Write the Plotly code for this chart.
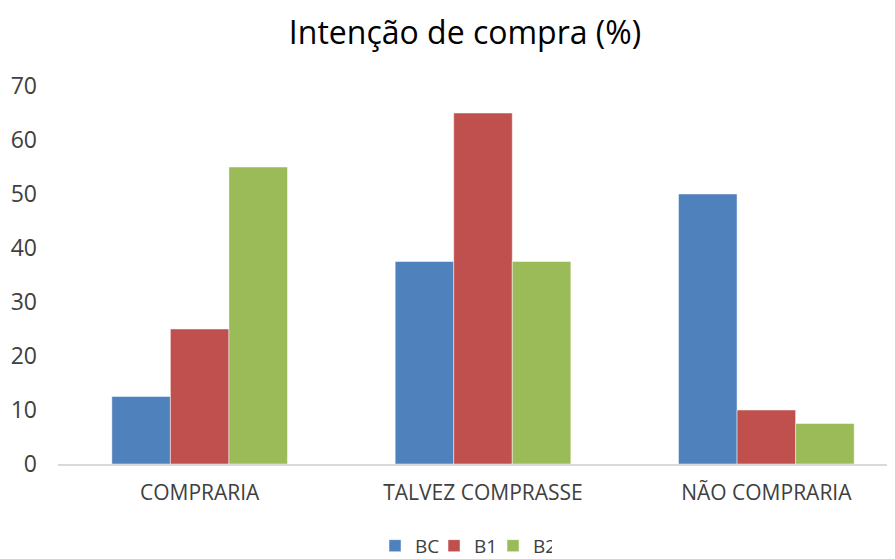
import plotly.graph_objects as go

categories = ["COMPRARIA", "TALVEZ COMPRASSE", "NÃO COMPRARIA"]
bc = [12.5, 37.5, 50]
b1 = [25, 65, 10]
b2 = [55, 37.5, 7.5]
series_names = ["BC", "B1", "B2"]
colors = ["#4F81BD", "#C0504D", "#9BBB59"]
y_ticks = [0, 10, 20, 30, 40, 50, 60, 70]

fig = go.Figure()
for name, vals, col in zip(series_names, [bc, b1, b2], colors):
    fig.add_trace(go.Bar(x=categories, y=vals, name=name, marker_color=col,
                         marker_line=dict(color="rgba(255,255,255,0.6)", width=0.8)))
# empty spacer entry so the last legend label is not clipped
fig.add_trace(go.Bar(x=[], y=[], name=" ", marker_color="rgba(0,0,0,0)",
                     marker_line_width=0, hoverinfo="skip"))

# page body has an 8px default margin; the chart's plot area runs past the right edge
fig.update_layout(
    width=900, height=551,
    barmode="group", bargap=0.38, bargroupgap=0,
    plot_bgcolor="white", paper_bgcolor="white",
    font=dict(family="Open Sans", color="#404040", size=20),
    title=dict(text="Intenção de compra (%)", x=457 / 900, xanchor="center", y=0.9546, yanchor="middle",
               font=dict(size=32, color="#000000", family="Open Sans")),
    margin=dict(l=50, r=0, t=78, b=95),
    showlegend=True,
    legend=dict(orientation="h", xref="container", yref="container",
                x=0.4078, xanchor="left", y=0.024, yanchor="middle",
                font=dict(size=19, color="#404040"), itemwidth=30, tracegroupgap=0,
                entrywidth=14, entrywidthmode="pixels"),
    xaxis=dict(showline=True, linecolor="#D9D9D9", linewidth=2, ticks="", automargin=False,
               tickfont=dict(size=21, color="#404040"), ticklabelstandoff=9),
    yaxis=dict(range=[0, 70], tickvals=y_ticks, showgrid=False, zeroline=False, automargin=False,
               showline=False, ticks="", tickfont=dict(size=23, color="#404040"),
               ticklabelstandoff=20),
)

fig.write_html("out.html")
